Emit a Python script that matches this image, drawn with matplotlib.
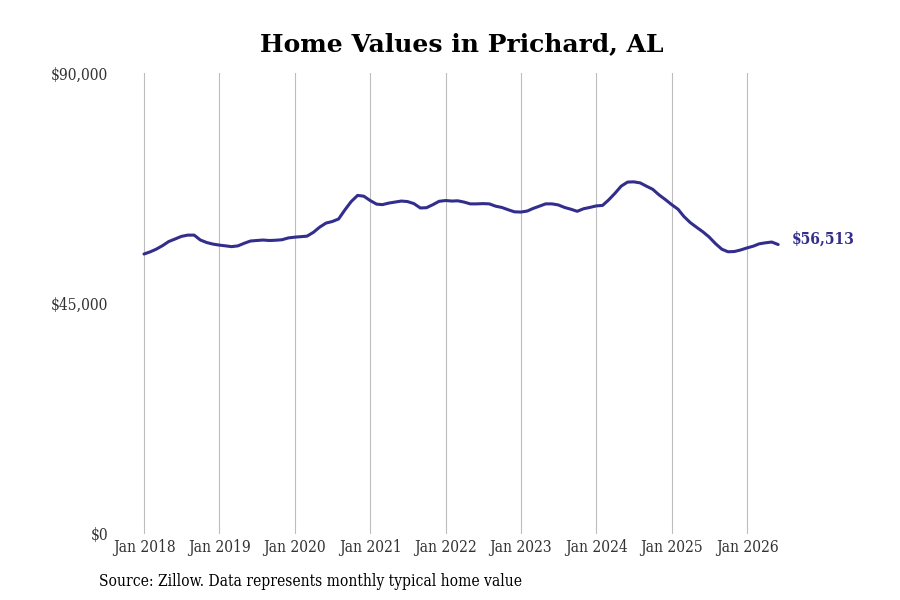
import matplotlib
matplotlib.use("Agg")
import matplotlib.pyplot as plt
import matplotlib.dates as mdates
import pandas as pd
import numpy as np

plt.rcParams['font.family'] = ['DejaVu Serif']

dates = pd.date_range("2018-01-01", "2026-06-01", freq="MS")
values = [
    54660, 55100, 55600, 56300, 57100, 57600, 58100, 58350, 58350, 57400, 56900, 56600,
    56400, 56250, 56100, 56250, 56750, 57200, 57300, 57390, 57300, 57350, 57450, 57800,
    57950, 58050, 58150, 58900, 59900, 60700, 61000, 61500, 63300, 64900, 66100, 65950,
    65100, 64400, 64300, 64600, 64800, 65000, 64900, 64500, 63650, 63700, 64300, 64950,
    65100, 65000, 65050, 64800, 64450, 64450, 64500, 64450, 64000, 63750, 63300, 62900,
    62850, 63050, 63550, 64000, 64450, 64450, 64250, 63750, 63400, 63000, 63500, 63750,
    64050, 64150, 65200, 66500, 67900, 68700, 68750, 68550, 67900, 67300, 66200, 65300,
    64300, 63400, 62000, 60800, 59900, 59000, 58000, 56700, 55600, 55100, 55150, 55450,
    55850, 56200, 56650, 56850, 57000, 56513,
]
y_ticks = [0, 45000, 90000]
y_labels = ["$0", "$45,000", "$90,000"]
x_tick_years = list(range(2018, 2027))
title = "Home Values in Prichard, AL"
source = "Source: Zillow. Data represents monthly typical home value"
line_color = "#332d8c"

fig = plt.figure(figsize=(9, 6), dpi=100)
ax = fig.add_axes([120/900, 1-534/600, (790-120)/900, (534-73)/600])

ax.plot(dates, values, color=line_color, lw=2.2, solid_capstyle='round')

ax.set_ylim(0, 90000)
ax.set_yticks(y_ticks)
ax.set_yticklabels(y_labels)
xt = [pd.Timestamp(f"{y}-01-01") for y in x_tick_years]
ax.set_xticks(xt)
ax.set_xticklabels([f"Jan {y}" for y in x_tick_years])
d0 = mdates.date2num(pd.Timestamp("2018-01-01"))
d1 = mdates.date2num(pd.Timestamp("2026-01-01"))
ppd = (747 - 144) / (d1 - d0)
ax.set_xlim(d0 - (144 - 120) / ppd, d0 + (790 - 144) / ppd)

ax.grid(axis='x', color='#bdbdbd', lw=0.8)
ax.grid(axis='y', visible=False)
for s in ax.spines.values():
    s.set_visible(False)
ax.tick_params(axis='both', length=0, labelsize=11.2, colors='#333333')
ax.tick_params(axis='x', pad=3.5)
ax.tick_params(axis='y', pad=8.7)
for lab in ax.get_xticklabels() + ax.get_yticklabels():
    lab.set_fontstretch('condensed')

ax.annotate(f"${values[-1]:,}", xy=(dates[-1], values[-1]), xytext=(10, 3.8),
            textcoords='offset points', ha='left', va='center',
            color=line_color, fontsize=11.2, fontweight='bold', fontstretch='condensed')

fig.text(462/900, 1-44/600, title, ha='center', va='center', fontsize=18, fontweight='bold')
fig.text(99/900, 1-582/600, source, ha='left', va='center', fontsize=11.2, fontstretch='condensed')

fig.savefig("out.png", dpi=100)
